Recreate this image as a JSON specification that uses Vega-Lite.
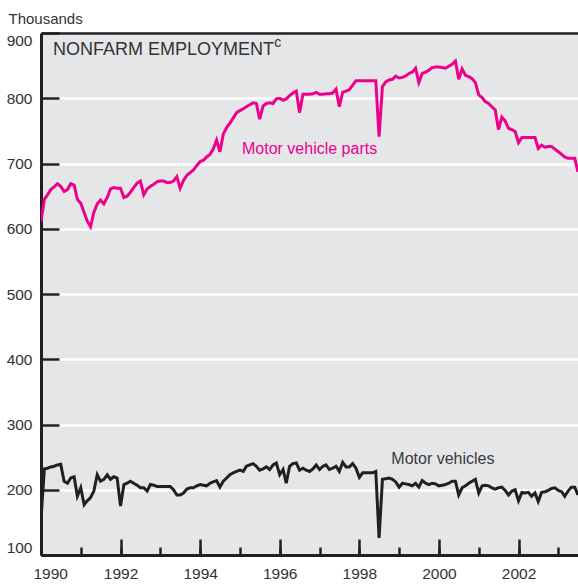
{
  "$schema": "https://vega.github.io/schema/vega-lite/v6.json",
  "width": 537,
  "height": 522,
  "autosize": "none",
  "padding": {"left": 41, "top": 33, "right": 0, "bottom": 33},
  "background": "white",
  "config": {
    "view": {"fill": "#E5E6E8", "stroke": null},
    "font": "Liberation Sans"
  },
  "datasets": {
    "series": [
      {"date":"1990-01","series":"parts","value":611},{"date":"1990-02","series":"parts","value":645},{"date":"1990-03","series":"parts","value":652},{"date":"1990-04","series":"parts","value":660},{"date":"1990-05","series":"parts","value":664},{"date":"1990-06","series":"parts","value":669},{"date":"1990-07","series":"parts","value":665},{"date":"1990-08","series":"parts","value":657},{"date":"1990-09","series":"parts","value":660},{"date":"1990-10","series":"parts","value":669},{"date":"1990-11","series":"parts","value":667},{"date":"1990-12","series":"parts","value":645},
      {"date":"1991-01","series":"parts","value":639},{"date":"1991-02","series":"parts","value":625},{"date":"1991-03","series":"parts","value":612},{"date":"1991-04","series":"parts","value":603},{"date":"1991-05","series":"parts","value":625},{"date":"1991-06","series":"parts","value":638},{"date":"1991-07","series":"parts","value":644},{"date":"1991-08","series":"parts","value":638},{"date":"1991-09","series":"parts","value":648},{"date":"1991-10","series":"parts","value":661},{"date":"1991-11","series":"parts","value":663},{"date":"1991-12","series":"parts","value":662},
      {"date":"1992-01","series":"parts","value":662},{"date":"1992-02","series":"parts","value":648},{"date":"1992-03","series":"parts","value":650},{"date":"1992-04","series":"parts","value":656},{"date":"1992-05","series":"parts","value":663},{"date":"1992-06","series":"parts","value":670},{"date":"1992-07","series":"parts","value":673},{"date":"1992-08","series":"parts","value":652},{"date":"1992-09","series":"parts","value":661},{"date":"1992-10","series":"parts","value":665},{"date":"1992-11","series":"parts","value":668},{"date":"1992-12","series":"parts","value":672},
      {"date":"1993-01","series":"parts","value":673},{"date":"1993-02","series":"parts","value":673},{"date":"1993-03","series":"parts","value":671},{"date":"1993-04","series":"parts","value":671},{"date":"1993-05","series":"parts","value":673},{"date":"1993-06","series":"parts","value":680},{"date":"1993-07","series":"parts","value":662},{"date":"1993-08","series":"parts","value":674},{"date":"1993-09","series":"parts","value":682},{"date":"1993-10","series":"parts","value":686},{"date":"1993-11","series":"parts","value":690},{"date":"1993-12","series":"parts","value":697},
      {"date":"1994-01","series":"parts","value":703},{"date":"1994-02","series":"parts","value":705},{"date":"1994-03","series":"parts","value":710},{"date":"1994-04","series":"parts","value":714},{"date":"1994-05","series":"parts","value":722},{"date":"1994-06","series":"parts","value":736},{"date":"1994-07","series":"parts","value":718},{"date":"1994-08","series":"parts","value":745},{"date":"1994-09","series":"parts","value":755},{"date":"1994-10","series":"parts","value":762},{"date":"1994-11","series":"parts","value":770},{"date":"1994-12","series":"parts","value":778},
      {"date":"1995-01","series":"parts","value":781},{"date":"1995-02","series":"parts","value":784},{"date":"1995-03","series":"parts","value":787},{"date":"1995-04","series":"parts","value":790},{"date":"1995-05","series":"parts","value":793},{"date":"1995-06","series":"parts","value":792},{"date":"1995-07","series":"parts","value":768},{"date":"1995-08","series":"parts","value":788},{"date":"1995-09","series":"parts","value":792},{"date":"1995-10","series":"parts","value":793},{"date":"1995-11","series":"parts","value":792},{"date":"1995-12","series":"parts","value":799},
      {"date":"1996-01","series":"parts","value":800},{"date":"1996-02","series":"parts","value":797},{"date":"1996-03","series":"parts","value":799},{"date":"1996-04","series":"parts","value":804},{"date":"1996-05","series":"parts","value":808},{"date":"1996-06","series":"parts","value":811},{"date":"1996-07","series":"parts","value":778},{"date":"1996-08","series":"parts","value":806},{"date":"1996-09","series":"parts","value":806},{"date":"1996-10","series":"parts","value":806},{"date":"1996-11","series":"parts","value":807},{"date":"1996-12","series":"parts","value":809},
      {"date":"1997-01","series":"parts","value":806},{"date":"1997-02","series":"parts","value":806},{"date":"1997-03","series":"parts","value":807},{"date":"1997-04","series":"parts","value":807},{"date":"1997-05","series":"parts","value":808},{"date":"1997-06","series":"parts","value":814},{"date":"1997-07","series":"parts","value":787},{"date":"1997-08","series":"parts","value":809},{"date":"1997-09","series":"parts","value":811},{"date":"1997-10","series":"parts","value":813},{"date":"1997-11","series":"parts","value":820},{"date":"1997-12","series":"parts","value":827},
      {"date":"1998-01","series":"parts","value":827},{"date":"1998-02","series":"parts","value":827},{"date":"1998-03","series":"parts","value":827},{"date":"1998-04","series":"parts","value":827},{"date":"1998-05","series":"parts","value":827},{"date":"1998-06","series":"parts","value":827},{"date":"1998-07","series":"parts","value":741},{"date":"1998-08","series":"parts","value":818},{"date":"1998-09","series":"parts","value":825},{"date":"1998-10","series":"parts","value":828},{"date":"1998-11","series":"parts","value":829},{"date":"1998-12","series":"parts","value":834},
      {"date":"1999-01","series":"parts","value":831},{"date":"1999-02","series":"parts","value":832},{"date":"1999-03","series":"parts","value":834},{"date":"1999-04","series":"parts","value":838},{"date":"1999-05","series":"parts","value":840},{"date":"1999-06","series":"parts","value":846},{"date":"1999-07","series":"parts","value":824},{"date":"1999-08","series":"parts","value":838},{"date":"1999-09","series":"parts","value":840},{"date":"1999-10","series":"parts","value":843},{"date":"1999-11","series":"parts","value":847},{"date":"1999-12","series":"parts","value":848},
      {"date":"2000-01","series":"parts","value":848},{"date":"2000-02","series":"parts","value":847},{"date":"2000-03","series":"parts","value":846},{"date":"2000-04","series":"parts","value":849},{"date":"2000-05","series":"parts","value":852},{"date":"2000-06","series":"parts","value":857},{"date":"2000-07","series":"parts","value":829},{"date":"2000-08","series":"parts","value":845},{"date":"2000-09","series":"parts","value":835},{"date":"2000-10","series":"parts","value":833},{"date":"2000-11","series":"parts","value":830},{"date":"2000-12","series":"parts","value":824},
      {"date":"2001-01","series":"parts","value":805},{"date":"2001-02","series":"parts","value":801},{"date":"2001-03","series":"parts","value":795},{"date":"2001-04","series":"parts","value":792},{"date":"2001-05","series":"parts","value":787},{"date":"2001-06","series":"parts","value":782},{"date":"2001-07","series":"parts","value":752},{"date":"2001-08","series":"parts","value":771},{"date":"2001-09","series":"parts","value":765},{"date":"2001-10","series":"parts","value":754},{"date":"2001-11","series":"parts","value":752},{"date":"2001-12","series":"parts","value":749},
      {"date":"2002-01","series":"parts","value":732},{"date":"2002-02","series":"parts","value":740},{"date":"2002-03","series":"parts","value":740},{"date":"2002-04","series":"parts","value":740},{"date":"2002-05","series":"parts","value":740},{"date":"2002-06","series":"parts","value":740},{"date":"2002-07","series":"parts","value":723},{"date":"2002-08","series":"parts","value":728},{"date":"2002-09","series":"parts","value":725},{"date":"2002-10","series":"parts","value":726},{"date":"2002-11","series":"parts","value":726},{"date":"2002-12","series":"parts","value":722},
      {"date":"2003-01","series":"parts","value":718},{"date":"2003-02","series":"parts","value":714},{"date":"2003-03","series":"parts","value":710},{"date":"2003-04","series":"parts","value":708},{"date":"2003-05","series":"parts","value":708},{"date":"2003-06","series":"parts","value":708},{"date":"2003-07","series":"parts","value":687},
      {"date":"1990-01","series":"vehicles","value":155},{"date":"1990-02","series":"vehicles","value":232},{"date":"1990-03","series":"vehicles","value":233},{"date":"1990-04","series":"vehicles","value":235},{"date":"1990-05","series":"vehicles","value":236},{"date":"1990-06","series":"vehicles","value":238},{"date":"1990-07","series":"vehicles","value":239},{"date":"1990-08","series":"vehicles","value":213},{"date":"1990-09","series":"vehicles","value":210},{"date":"1990-10","series":"vehicles","value":218},{"date":"1990-11","series":"vehicles","value":220},{"date":"1990-12","series":"vehicles","value":190},
      {"date":"1991-01","series":"vehicles","value":203},{"date":"1991-02","series":"vehicles","value":177},{"date":"1991-03","series":"vehicles","value":183},{"date":"1991-04","series":"vehicles","value":188},{"date":"1991-05","series":"vehicles","value":198},{"date":"1991-06","series":"vehicles","value":223},{"date":"1991-07","series":"vehicles","value":213},{"date":"1991-08","series":"vehicles","value":216},{"date":"1991-09","series":"vehicles","value":223},{"date":"1991-10","series":"vehicles","value":216},{"date":"1991-11","series":"vehicles","value":220},{"date":"1991-12","series":"vehicles","value":218},
      {"date":"1992-01","series":"vehicles","value":175},{"date":"1992-02","series":"vehicles","value":208},{"date":"1992-03","series":"vehicles","value":210},{"date":"1992-04","series":"vehicles","value":213},{"date":"1992-05","series":"vehicles","value":210},{"date":"1992-06","series":"vehicles","value":207},{"date":"1992-07","series":"vehicles","value":203},{"date":"1992-08","series":"vehicles","value":203},{"date":"1992-09","series":"vehicles","value":198},{"date":"1992-10","series":"vehicles","value":208},{"date":"1992-11","series":"vehicles","value":207},{"date":"1992-12","series":"vehicles","value":205},
      {"date":"1993-01","series":"vehicles","value":205},{"date":"1993-02","series":"vehicles","value":205},{"date":"1993-03","series":"vehicles","value":205},{"date":"1993-04","series":"vehicles","value":205},{"date":"1993-05","series":"vehicles","value":200},{"date":"1993-06","series":"vehicles","value":192},{"date":"1993-07","series":"vehicles","value":192},{"date":"1993-08","series":"vehicles","value":195},{"date":"1993-09","series":"vehicles","value":201},{"date":"1993-10","series":"vehicles","value":203},{"date":"1993-11","series":"vehicles","value":203},{"date":"1993-12","series":"vehicles","value":206},
      {"date":"1994-01","series":"vehicles","value":208},{"date":"1994-02","series":"vehicles","value":207},{"date":"1994-03","series":"vehicles","value":206},{"date":"1994-04","series":"vehicles","value":210},{"date":"1994-05","series":"vehicles","value":212},{"date":"1994-06","series":"vehicles","value":214},{"date":"1994-07","series":"vehicles","value":204},{"date":"1994-08","series":"vehicles","value":213},{"date":"1994-09","series":"vehicles","value":218},{"date":"1994-10","series":"vehicles","value":223},{"date":"1994-11","series":"vehicles","value":226},{"date":"1994-12","series":"vehicles","value":228},
      {"date":"1995-01","series":"vehicles","value":230},{"date":"1995-02","series":"vehicles","value":228},{"date":"1995-03","series":"vehicles","value":236},{"date":"1995-04","series":"vehicles","value":238},{"date":"1995-05","series":"vehicles","value":240},{"date":"1995-06","series":"vehicles","value":236},{"date":"1995-07","series":"vehicles","value":230},{"date":"1995-08","series":"vehicles","value":232},{"date":"1995-09","series":"vehicles","value":235},{"date":"1995-10","series":"vehicles","value":231},{"date":"1995-11","series":"vehicles","value":238},{"date":"1995-12","series":"vehicles","value":241},
      {"date":"1996-01","series":"vehicles","value":223},{"date":"1996-02","series":"vehicles","value":231},{"date":"1996-03","series":"vehicles","value":210},{"date":"1996-04","series":"vehicles","value":236},{"date":"1996-05","series":"vehicles","value":240},{"date":"1996-06","series":"vehicles","value":241},{"date":"1996-07","series":"vehicles","value":230},{"date":"1996-08","series":"vehicles","value":233},{"date":"1996-09","series":"vehicles","value":230},{"date":"1996-10","series":"vehicles","value":228},{"date":"1996-11","series":"vehicles","value":232},{"date":"1996-12","series":"vehicles","value":238},
      {"date":"1997-01","series":"vehicles","value":231},{"date":"1997-02","series":"vehicles","value":236},{"date":"1997-03","series":"vehicles","value":238},{"date":"1997-04","series":"vehicles","value":231},{"date":"1997-05","series":"vehicles","value":233},{"date":"1997-06","series":"vehicles","value":236},{"date":"1997-07","series":"vehicles","value":228},{"date":"1997-08","series":"vehicles","value":242},{"date":"1997-09","series":"vehicles","value":235},{"date":"1997-10","series":"vehicles","value":235},{"date":"1997-11","series":"vehicles","value":240},{"date":"1997-12","series":"vehicles","value":233},
      {"date":"1998-01","series":"vehicles","value":219},{"date":"1998-02","series":"vehicles","value":226},{"date":"1998-03","series":"vehicles","value":226},{"date":"1998-04","series":"vehicles","value":226},{"date":"1998-05","series":"vehicles","value":226},{"date":"1998-06","series":"vehicles","value":228},{"date":"1998-07","series":"vehicles","value":126},{"date":"1998-08","series":"vehicles","value":216},{"date":"1998-09","series":"vehicles","value":217},{"date":"1998-10","series":"vehicles","value":218},{"date":"1998-11","series":"vehicles","value":216},{"date":"1998-12","series":"vehicles","value":212},
      {"date":"1999-01","series":"vehicles","value":204},{"date":"1999-02","series":"vehicles","value":210},{"date":"1999-03","series":"vehicles","value":209},{"date":"1999-04","series":"vehicles","value":208},{"date":"1999-05","series":"vehicles","value":206},{"date":"1999-06","series":"vehicles","value":210},{"date":"1999-07","series":"vehicles","value":204},{"date":"1999-08","series":"vehicles","value":214},{"date":"1999-09","series":"vehicles","value":210},{"date":"1999-10","series":"vehicles","value":208},{"date":"1999-11","series":"vehicles","value":210},{"date":"1999-12","series":"vehicles","value":209},
      {"date":"2000-01","series":"vehicles","value":206},{"date":"2000-02","series":"vehicles","value":207},{"date":"2000-03","series":"vehicles","value":208},{"date":"2000-04","series":"vehicles","value":210},{"date":"2000-05","series":"vehicles","value":213},{"date":"2000-06","series":"vehicles","value":213},{"date":"2000-07","series":"vehicles","value":192},{"date":"2000-08","series":"vehicles","value":203},{"date":"2000-09","series":"vehicles","value":206},{"date":"2000-10","series":"vehicles","value":210},{"date":"2000-11","series":"vehicles","value":213},{"date":"2000-12","series":"vehicles","value":216},
      {"date":"2001-01","series":"vehicles","value":195},{"date":"2001-02","series":"vehicles","value":206},{"date":"2001-03","series":"vehicles","value":207},{"date":"2001-04","series":"vehicles","value":206},{"date":"2001-05","series":"vehicles","value":203},{"date":"2001-06","series":"vehicles","value":201},{"date":"2001-07","series":"vehicles","value":203},{"date":"2001-08","series":"vehicles","value":204},{"date":"2001-09","series":"vehicles","value":199},{"date":"2001-10","series":"vehicles","value":192},{"date":"2001-11","series":"vehicles","value":198},{"date":"2001-12","series":"vehicles","value":200},
      {"date":"2002-01","series":"vehicles","value":183},{"date":"2002-02","series":"vehicles","value":196},{"date":"2002-03","series":"vehicles","value":195},{"date":"2002-04","series":"vehicles","value":196},{"date":"2002-05","series":"vehicles","value":190},{"date":"2002-06","series":"vehicles","value":195},{"date":"2002-07","series":"vehicles","value":182},{"date":"2002-08","series":"vehicles","value":196},{"date":"2002-09","series":"vehicles","value":197},{"date":"2002-10","series":"vehicles","value":199},{"date":"2002-11","series":"vehicles","value":202},{"date":"2002-12","series":"vehicles","value":203},
      {"date":"2003-01","series":"vehicles","value":199},{"date":"2003-02","series":"vehicles","value":197},{"date":"2003-03","series":"vehicles","value":190},{"date":"2003-04","series":"vehicles","value":198},{"date":"2003-05","series":"vehicles","value":204},{"date":"2003-06","series":"vehicles","value":204},{"date":"2003-07","series":"vehicles","value":192}
    ],
    "labels": [
      {"label": "Motor vehicle parts", "date": "1995-01-20", "value": 714},
      {"label": "Motor vehicles", "date": "1998-10-22", "value": 240}
    ],
    "heading": [
      {"label": "NONFARM EMPLOYMENT", "date": "1990-04-22", "value": 866}
    ],
    "note": [
      {"label": "c", "date": "1995-11-12", "value": 879}
    ]
  },
  "encoding": {
    "y": {
      "field": "value",
      "type": "quantitative",
      "scale": {"domain": [100, 900], "nice": false, "zero": false},
      "axis": {
        "values": [100, 200, 300, 400, 500, 600, 700, 800, 900],
        "title": "Thousands",
        "titleAngle": 0,
        "titleAlign": "left",
        "titleBaseline": "alphabetic",
        "titleX": -33,
        "titleY": -10,
        "titleFont": "Liberation Sans",
        "titleFontSize": 15,
        "titleFontWeight": "normal",
        "titleColor": "#333333",
        "grid": true,
        "gridColor": "#FFFFFF",
        "gridWidth": 2.5,
        "tickSize": -18,
        "tickWidth": 2.5,
        "tickColor": "#231F20",
        "domain": true,
        "domainColor": "#231F20",
        "domainWidth": 3,
        "labelPadding": 27,
        "labelFlush": true,
        "labelFlushOffset": 0,
        "labelFont": "Liberation Sans",
        "labelFontSize": 15.5,
        "labelColor": "#333333"
      }
    }
  },
  "layer": [
    {
      "data": {"name": "series"},
      "mark": {"type": "line", "strokeWidth": 3, "clip": true, "strokeJoin": "miter"},
      "encoding": {
        "x": {
          "field": "date",
          "type": "temporal",
          "scale": {"type": "utc", "domain": [{"year": 1990, "month": 1, "date": 1, "utc": true}, {"year": 2003, "month": 7, "date": 1, "utc": true}]},
          "axis": {
            "orient": "bottom",
            "values": [{"year":1990,"utc":true},{"year":1991,"utc":true},{"year":1992,"utc":true},{"year":1993,"utc":true},{"year":1994,"utc":true},{"year":1995,"utc":true},{"year":1996,"utc":true},{"year":1997,"utc":true},{"year":1998,"utc":true},{"year":1999,"utc":true},{"year":2000,"utc":true},{"year":2001,"utc":true},{"year":2002,"utc":true},{"year":2003,"utc":true}],
            "tickSize": -8,
            "tickWidth": 2.5,
            "tickColor": "#231F20",
            "labels": false,
            "domain": true,
            "domainColor": "#231F20",
            "domainWidth": 3,
            "grid": false,
            "title": null
          }
        },
        "color": {
          "field": "series",
          "type": "nominal",
          "scale": {"domain": ["parts", "vehicles"], "range": ["#EC008C", "#231F20"]},
          "legend": null
        }
      }
    },
    {
      "data": {"name": "labels"},
      "transform": [{"filter": "datum.label === 'Motor vehicle parts'"}],
      "mark": {"type": "text", "align": "left", "baseline": "alphabetic", "font": "Liberation Sans", "fontSize": 16, "color": "#EC008C"},
      "encoding": {
        "x": {
          "field": "date",
          "type": "temporal",
          "axis": {
            "orient": "bottom",
            "values": [{"year":1990,"utc":true},{"year":1992,"utc":true},{"year":1994,"utc":true},{"year":1996,"utc":true},{"year":1998,"utc":true},{"year":2000,"utc":true},{"year":2002,"utc":true}],
            "format": "%Y",
            "tickSize": -16,
            "tickWidth": 2.5,
            "tickColor": "#231F20",
            "labels": true,
            "labelPadding": 27,
            "labelFont": "Liberation Sans",
            "labelFontSize": 15.5,
            "labelColor": "#333333",
            "labelFlush": true,
            "labelFlushOffset": 8,
            "domain": false,
            "grid": false,
            "title": null
          }
        },
        "text": {"field": "label"}
      }
    },
    {
      "data": {"name": "labels"},
      "transform": [{"filter": "datum.label === 'Motor vehicles'"}],
      "mark": {"type": "text", "align": "left", "baseline": "alphabetic", "font": "Liberation Sans", "fontSize": 16, "color": "#3A3A3A"},
      "encoding": {
        "x": {
          "field": "date",
          "type": "temporal",
          "axis": {
            "orient": "top",
            "domain": true,
            "domainColor": "#231F20",
            "domainWidth": 2.5,
            "ticks": false,
            "labels": false,
            "grid": false,
            "title": null
          }
        },
        "text": {"field": "label"}
      }
    },
    {
      "data": {"name": "heading"},
      "mark": {"type": "text", "align": "left", "baseline": "alphabetic", "font": "Liberation Sans", "fontSize": 18, "color": "#333333"},
      "encoding": {
        "x": {"field": "date", "type": "temporal", "axis": null},
        "text": {"field": "label"}
      }
    },
    {
      "data": {"name": "note"},
      "mark": {"type": "text", "align": "left", "baseline": "alphabetic", "font": "Liberation Sans", "fontSize": 14, "color": "#333333"},
      "encoding": {
        "x": {"field": "date", "type": "temporal", "axis": null},
        "text": {"field": "label"}
      }
    }
  ],
  "resolve": {"axis": {"x": "independent"}}
}
